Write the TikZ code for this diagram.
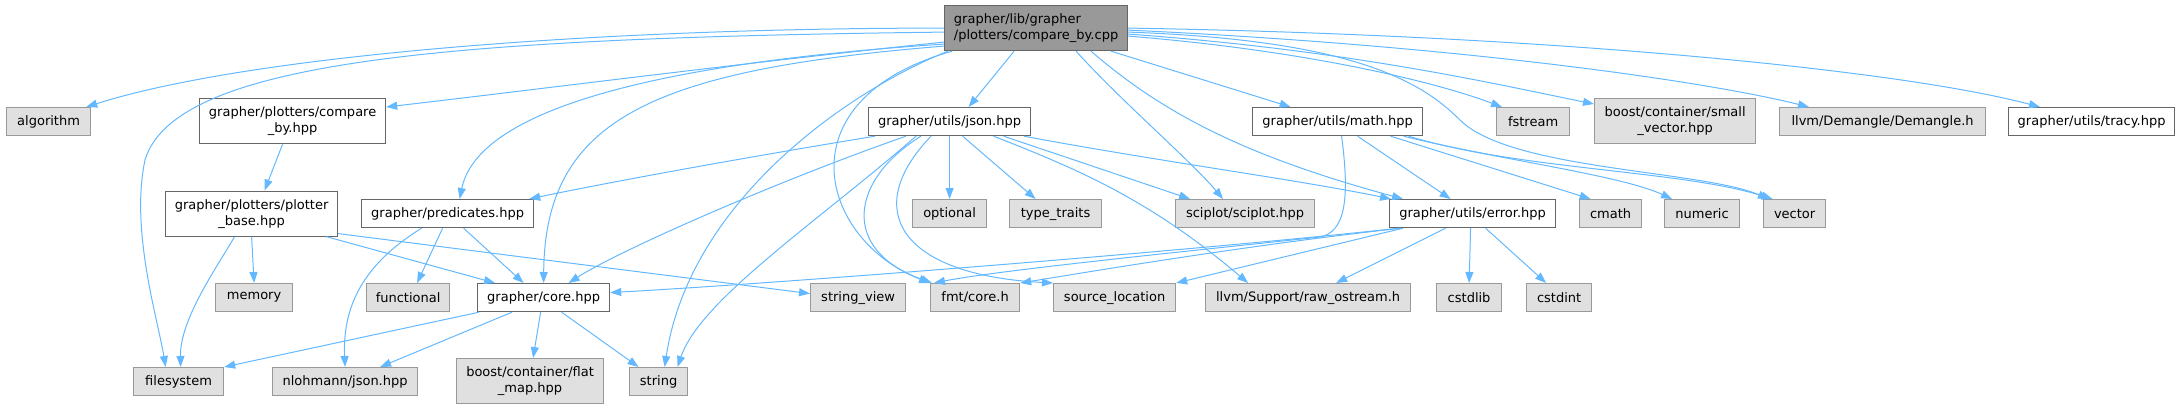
\documentclass[tikz,border=0pt]{standalone}
\usepackage{fontspec}
\setmainfont{DejaVu Sans}
\usetikzlibrary{arrows.meta}
\definecolor{edgec}{HTML}{63B8FF}
\definecolor{rootfill}{HTML}{999999}
\definecolor{darkb}{HTML}{666666}
\definecolor{grayfill}{HTML}{E0E0E0}
\definecolor{grayb}{HTML}{999999}
\tikzset{
  box/.style={anchor=north west, inner sep=0pt, align=center, line width=1.2pt,
    font=\fontsize{13}{16}\selectfont, text=black},
  gnode/.style={box, draw=grayb, fill=grayfill},
  wnode/.style={box, draw=darkb, fill=white},
  rnode/.style={box, draw=darkb, fill=rootfill, align=left},
  edge/.style={draw=edgec, line width=1pt, -{Triangle[length=11pt,width=8pt,fill=edgec]}},
}
\begin{document}
\begin{tikzpicture}[x=1pt,y=-1pt]
\useasboundingbox (0,0) rectangle (2180,409);
% row 1
\node[rnode, minimum width=183, minimum height=45] (root) at (944,5) {grapher/lib/grapher\\/plotters/compare\_by.cpp};
% row 2
\node[gnode, minimum width=84, minimum height=28] (algorithm) at (6,107) {algorithm};
\node[wnode, minimum width=186, minimum height=45] (compareby) at (199,98) {grapher/plotters/compare\\\_by.hpp};
\node[wnode, minimum width=162, minimum height=28] (json) at (868,107) {grapher/utils/json.hpp};
\node[wnode, minimum width=170, minimum height=28] (math) at (1252,107) {grapher/utils/math.hpp};
\node[gnode, minimum width=73, minimum height=28] (fstream) at (1496,107) {fstream};
\node[gnode, minimum width=161, minimum height=45] (smallvec) at (1594,98) {boost/container/small\\\_vector.hpp};
\node[gnode, minimum width=206, minimum height=28] (demangle) at (1779,107) {llvm/Demangle/Demangle.h};
\node[wnode, minimum width=166, minimum height=28] (tracy) at (2008,107) {grapher/utils/tracy.hpp};
% row 3
\node[wnode, minimum width=172, minimum height=45] (plotterbase) at (165,190.5) {grapher/plotters/plotter\\\_base.hpp};
\node[wnode, minimum width=172, minimum height=28] (predicates) at (361,199) {grapher/predicates.hpp};
\node[gnode, minimum width=74, minimum height=28] (optional) at (912,199) {optional};
\node[gnode, minimum width=92, minimum height=28] (typetraits) at (1009,199) {type\_traits};
\node[gnode, minimum width=139, minimum height=28] (sciplot) at (1175,199) {sciplot/sciplot.hpp};
\node[wnode, minimum width=166, minimum height=28] (error) at (1389,199) {grapher/utils/error.hpp};
\node[gnode, minimum width=62, minimum height=28] (cmath) at (1579,199) {cmath};
\node[gnode, minimum width=75, minimum height=28] (numeric) at (1664,199) {numeric};
\node[gnode, minimum width=62, minimum height=28] (vector) at (1763,199) {vector};
% row 4
\node[gnode, minimum width=77, minimum height=28] (memory) at (215,283) {memory};
\node[gnode, minimum width=83, minimum height=28] (functional) at (366,283) {functional};
\node[wnode, minimum width=132, minimum height=28] (core) at (477,283) {grapher/core.hpp};
\node[gnode, minimum width=95, minimum height=28] (stringview) at (810,283) {string\_view};
\node[gnode, minimum width=89, minimum height=28] (fmt) at (930,283) {fmt/core.h};
\node[gnode, minimum width=122, minimum height=28] (srcloc) at (1053,283) {source\_location};
\node[gnode, minimum width=205, minimum height=28] (rawos) at (1205,283) {llvm/Support/raw\_ostream.h};
\node[gnode, minimum width=65, minimum height=28] (cstdlib) at (1436,283) {cstdlib};
\node[gnode, minimum width=65, minimum height=28] (cstdint) at (1526,283) {cstdint};
% row 5
\node[gnode, minimum width=90, minimum height=28] (filesystem) at (133,367) {filesystem};
\node[gnode, minimum width=145, minimum height=28] (nlohmann) at (272,367) {nlohmann/json.hpp};
\node[gnode, minimum width=147, minimum height=45] (flatmap) at (456,358) {boost/container/flat\\\_map.hpp};
\node[gnode, minimum width=58, minimum height=28] (string) at (629,367) {string};

% ---- edges from root (left side)
\draw[edge] (root.west) .. controls (600,28) and (250,55) .. ([xshift=-5pt]algorithm.north east);
\draw[edge] ([yshift=-4pt]root.west) .. controls (450,38) and (175,60) .. (145,160) .. controls (130,230) and (158,320) .. ([xshift=-13pt]filesystem.north);
\draw[edge] ([yshift=-14pt]root.west) .. controls (750,62) and (550,88) .. ([yshift=-9pt]compareby.north east);
\draw[edge] ([yshift=-16pt]root.west) .. controls (700,60) and (480,100) .. ([xshift=12pt]predicates.north);
\draw[edge] ([yshift=-18pt]root.west) .. controls (650,70) and (545,120) .. (core.north);
\draw[edge] ([xshift=4pt]root.south west) .. controls (850,90) and (690,200) .. ([xshift=6pt]string.north);
\draw[edge] ([xshift=8pt]root.south west) .. controls (780,100) and (820,240) .. (fmt.north west);
% ---- edges from root (right side)
\draw[edge] ([xshift=-22pt]root.south) -- ([xshift=19pt]json.north);
\draw[edge] ([xshift=40pt]root.south) .. controls (1120,100) and (1190,160) .. ([xshift=-22pt]sciplot.north);
\draw[edge] ([xshift=55pt]root.south) .. controls (1170,120) and (1260,160) .. ([xshift=14pt]error.north west);
\draw[edge] ([xshift=75pt]root.south) -- ([xshift=-47pt]math.north);
\draw[edge] ([yshift=-4pt]root.east) .. controls (1350,40) and (1420,80) .. (1460,120) .. controls (1510,170) and (1700,170) .. ([xshift=6pt]vector.north west);
\draw[edge] ([yshift=-8pt]root.east) .. controls (1300,50) and (1430,80) .. ([xshift=6pt]fstream.north west);
\draw[edge] ([yshift=-6pt]root.east) .. controls (1350,50) and (1500,85) .. ([yshift=-6pt]smallvec.north west);
\draw[edge] ([yshift=-2pt]root.east) .. controls (1450,45) and (1700,80) .. ([xshift=30pt]demangle.north west);
\draw[edge] (root.east) .. controls (1550,35) and (1900,70) .. ([xshift=32pt]tracy.north west);

% ---- compare_by, plotter_base
\draw[edge] ([xshift=-10pt]compareby.south) -- ([xshift=13pt]plotterbase.north);
\draw[edge] ([xshift=-17pt]plotterbase.south) .. controls (215,270) and (180,320) .. ([xshift=2pt]filesystem.north);
\draw[edge] (plotterbase.south) -- (memory.north);
\draw[edge] ([xshift=75pt]plotterbase.south) -- ([xshift=18pt]core.north west);
\draw[edge] ([yshift=-20pt]plotterbase.east) -- ([yshift=4pt]stringview.west);

% ---- predicates
\draw[edge] ([xshift=-26pt]predicates.south) .. controls (370,260) and (342,300) .. (nlohmann.north);
\draw[edge] ([xshift=-5pt]predicates.south) -- ([xshift=9pt]functional.north);
\draw[edge] ([xshift=16pt]predicates.south) -- ([xshift=-20pt]core.north);

% ---- core
\draw[edge] ([xshift=2pt]core.south west) -- (filesystem.north east);
\draw[edge] ([xshift=35pt]core.south west) -- ([xshift=35pt]nlohmann.north);
\draw[edge] ([xshift=-3pt]core.south) -- ([xshift=3pt]flatmap.north);
\draw[edge] ([xshift=18pt]core.south) -- ([xshift=-20pt]string.north);

% ---- json
\draw[edge] ([xshift=7pt]json.south west) .. controls (760,155) and (620,180) .. ([xshift=-5pt]predicates.north east);
\draw[edge] ([xshift=38pt]json.south west) .. controls (780,180) and (620,250) .. ([xshift=25pt]core.north);
\draw[edge] ([xshift=48pt]json.south west) .. controls (820,220) and (700,300) .. ([xshift=19pt]string.north);
\draw[edge] ([xshift=53pt]json.south west) .. controls (850,180) and (840,250) .. ([xshift=2pt]fmt.north west);
\draw[edge] ([xshift=63pt]json.south west) .. controls (860,210) and (900,275) .. (srcloc.north west);
\draw[edge] (json.south) -- (optional.north);
\draw[edge] ([xshift=13pt]json.south) -- ([xshift=-20pt]typetraits.north);
\draw[edge] ([xshift=44pt]json.south) .. controls (1080,170) and (1150,200) .. ([xshift=-60pt]rawos.north);
\draw[edge] ([xshift=54pt]json.south) -- ([xshift=-55pt]sciplot.north);
\draw[edge] ([xshift=-7pt]json.south east) .. controls (1150,160) and (1300,180) .. ([xshift=2pt]error.north west);

% ---- math
\draw[edge] ([xshift=4pt]math.south) .. controls (1350,200) and (1345,232) .. (1320,237) .. controls (1200,250) and (1000,270) .. ([xshift=4pt]fmt.north west);
\draw[edge] ([xshift=20pt]math.south) -- ([xshift=-22pt]error.north);
\draw[edge] ([xshift=53pt]math.south) -- ([xshift=-20pt]cmath.north);
\draw[edge] ([xshift=66pt]math.south) .. controls (1500,160) and (1620,175) .. ([xshift=-30pt]numeric.north);
\draw[edge] ([xshift=71pt]math.south) .. controls (1520,170) and (1680,170) .. ([xshift=-22pt]vector.north);

% ---- error
\draw[edge] ([xshift=10pt]error.south west) .. controls (1200,250) and (800,282) .. ([yshift=5pt]core.east);
\draw[edge] ([xshift=12pt]error.south west) .. controls (1250,245) and (1100,270) .. (fmt.north east);
\draw[edge] ([xshift=14pt]error.south west) -- (srcloc.north east);
\draw[edge] ([xshift=-27pt]error.south) -- ([xshift=28pt]rawos.north);
\draw[edge] ([xshift=-2pt]error.south) -- (cstdlib.north);
\draw[edge] ([xshift=13pt]error.south) -- ([xshift=-13pt]cstdint.north);
\end{tikzpicture}
\end{document}
